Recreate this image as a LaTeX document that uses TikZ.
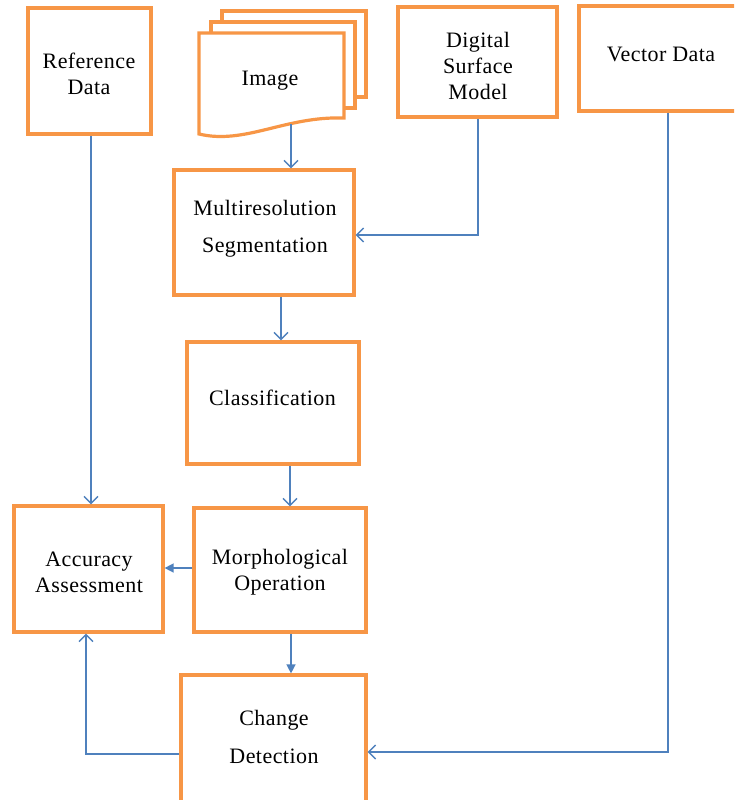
\documentclass[tikz,border=0pt]{standalone}
\usepackage{fontspec}
\setmainfont{Liberation Serif}[LetterSpace=2]
\usetikzlibrary{arrows.meta}
\definecolor{boxorange}{HTML}{F79646}
\definecolor{flowblue}{HTML}{4F81BD}
\tikzset{
  box/.style={draw=boxorange, line width=3.2pt, fill=white, rectangle, inner sep=0pt},
  sheet/.style={draw=boxorange, line width=3.2pt, fill=white, line join=miter},
  txt/.style={align=center, inner sep=0pt, font=\fontsize{22}{26}\selectfont},
  flow/.style={draw=flowblue, line width=1.4pt, -{Straight Barb[length=7pt,width=14pt]}},
  flowfill/.style={draw=flowblue, line width=1.4pt, -{Triangle[length=9pt,width=9pt]}}
}
\begin{document}
\begin{tikzpicture}[x=1pt,y=-1pt]
\useasboundingbox (0,0) rectangle (734,800);
\clip (0,0) rectangle (734,800);

% process boxes
\node[box, minimum width=123pt, minimum height=126pt] (ref) at (89.5,71) {};
\node[box, minimum width=159pt, minimum height=110pt] (dsm) at (477.5,62) {};
\node[box, minimum width=158pt, minimum height=105pt] (vec) at (658,58.5) {};
\node[box, minimum width=180pt, minimum height=125pt] (multi) at (264,232.5) {};
\node[box, minimum width=172pt, minimum height=122pt] (cls) at (273,403) {};
\node[box, minimum width=172pt, minimum height=124pt] (morph) at (280,570) {};
\node[box, minimum width=149pt, minimum height=126pt] (acc) at (88.5,569) {};
\node[box, minimum width=185pt, minimum height=128pt] (chg) at (273.5,739) {};

% stacked image sheets
\path[sheet] (222,11) rectangle (366,97);
\path[sheet] (211,22) rectangle (355,108);
\path[sheet] (199,33) -- (344,33) -- (344,118)
  .. controls (285,116) and (245,145) .. (199,134) -- cycle;

% labels
\node[txt] (ref-t) at (89,74) {Reference\\Data};
\node[txt] (img-t) at (270,81) {Image};
\node[txt] (dsm-t) at (478,66) {Digital\\Surface\\Model};
\node[txt] (vec-t) at (661,54) {Vector Data};
\node[txt] (multi-t) at (265,229) {Multiresolution\\[11pt]Segmentation};
\node[txt] (cls-t) at (272.5,398) {Classification};
\node[txt] (morph-t) at (280,572) {Morphological\\Operation};
\node[txt] (acc-t) at (89,572) {Accuracy\\Assessment};
\node[txt] (chg-t) at (274,737) {Change\\[12pt]Detection};

% connectors
\coordinate (imgb) at (291,124);
\draw[flow] (imgb) -- (imgb |- multi.north);
\draw[flow] (91,0 |- ref.south) -- (91,0 |- acc.north);
\draw[flow] (478,0 |- dsm.south) -- (478,235) -- (multi.east |- 0,235);
\draw[flow] (281,0 |- multi.south) -- (281,0 |- cls.north);
\draw[flow] (290,0 |- cls.south) -- (290,0 |- morph.north);
\draw[flowfill] (morph.west |- 0,568) -- (acc.east |- 0,568);
\draw[flowfill] (291,0 |- morph.south) -- (291,0 |- chg.north);
\draw[flow] (668,0 |- vec.south) -- (668,752) -- (chg.east |- 0,752);
\draw[flow] (chg.west |- 0,754) -- (86,754) -- (86,0 |- acc.south);
\end{tikzpicture}
\end{document}
